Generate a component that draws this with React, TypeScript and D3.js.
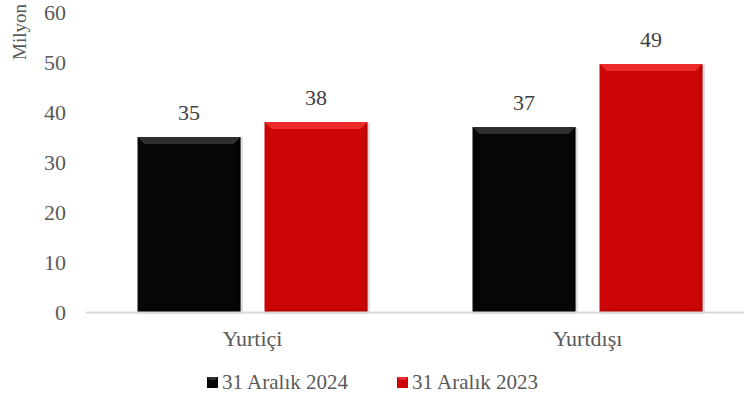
import { useRef, useEffect } from "react";
import * as d3 from "d3";

const categories = ["Yurtiçi", "Yurtdışı"];
const seriesNames = ["31 Aralık 2024", "31 Aralık 2023"];
const values2024 = [35, 37];
const values2023 = [38, 49.6];
const labels2024 = ["35", "37"];
const labels2023 = ["38", "49"];
const yTicks = [0, 10, 20, 30, 40, 50, 60];

const colors = ["#060606", "#cc0606"];
const lightColors = ["#2e2e2e", "#ec2a2a"];
const darkColors = ["#000000", "#9a0000"];

function drawChart(svgEl: SVGSVGElement) {
  const width = 745,
    height = 409;
  const bevel = 7;
  const fs = 22;
  const font = "'Liberation Serif', 'Times New Roman', serif";

  const svg = d3.select(svgEl);
  svg.selectAll("*").remove();
  svg.attr("viewBox", `0 0 ${width} ${height}`);

  const y = d3.scaleLinear().domain([0, 60]).range([312, 12]);
  const x0 = d3.scaleBand().domain(categories).range([85, 755]).padding(0);
  const x1 = d3
    .scaleBand()
    .domain(seriesNames)
    .range([x0.bandwidth() / 2 - 115, x0.bandwidth() / 2 + 115])
    .paddingInner(24 / 127)
    .paddingOuter(0);

  // y tick labels
  svg
    .append("g")
    .selectAll("text")
    .data(yTicks)
    .join("text")
    .attr("x", 66)
    .attr("y", (d) => y(d))
    .attr("dy", "0.35em")
    .attr("text-anchor", "end")
    .attr("font-family", font)
    .attr("font-size", fs)
    .attr("fill", "#595959")
    .text((d) => d);

  svg
    .append("text")
    .attr("transform", `translate(26,32) rotate(-90)`)
    .attr("text-anchor", "middle")
    .attr("font-family", font)
    .attr("font-size", 19)
    .attr("fill", "#595959")
    .text("Milyon");

  const rows = categories.map((c, i) => ({
    cat: c,
    items: [
      { s: 0, v: values2024[i], label: labels2024[i] },
      { s: 1, v: values2023[i], label: labels2023[i] },
    ],
  }));

  const groups = svg
    .append("g")
    .selectAll("g")
    .data(rows)
    .join("g")
    .attr("transform", (d) => `translate(${x0(d.cat)},0)`);

  const bars = groups
    .selectAll("g")
    .data((d) => d.items)
    .join("g");

  const bw = x1.bandwidth();
  const bx = (d: any) => x1(seriesNames[d.s]) as number;

  // soft shadow
  bars
    .append("rect")
    .attr("x", (d) => bx(d) + 1)
    .attr("y", (d) => y(d.v) + 1)
    .attr("width", bw + 1.5)
    .attr("height", (d) => y(0) - y(d.v) + 1)
    .attr("fill", "#c8c8c8")
    .attr("opacity", 0.6);

  bars
    .append("rect")
    .attr("x", bx)
    .attr("y", (d) => y(d.v))
    .attr("width", bw)
    .attr("height", (d) => y(0) - y(d.v))
    .attr("fill", (d) => colors[d.s]);

  // top bevel
  bars
    .append("path")
    .attr("d", (d) => {
      const l = bx(d), t = y(d.v), r = l + bw;
      return `M${l},${t}L${r},${t}L${r - bevel},${t + bevel}L${l + bevel},${t + bevel}Z`;
    })
    .attr("fill", (d) => lightColors[d.s]);

  // right bevel
  bars
    .append("path")
    .attr("d", (d) => {
      const r = bx(d) + bw, t = y(d.v), b = y(0);
      return `M${r},${t}L${r - 3},${t + 3}L${r - 3},${b - 3}L${r},${b}Z`;
    })
    .attr("fill", (d) => darkColors[d.s])
    .attr("opacity", 0.35);

  // bottom bevel
  bars
    .append("path")
    .attr("d", (d) => {
      const l = bx(d), r = l + bw, b = y(0);
      return `M${l},${b}L${l + 3},${b - 3}L${r - 3},${b - 3}L${r},${b}Z`;
    })
    .attr("fill", (d) => darkColors[d.s])
    .attr("opacity", 0.35);

  bars
    .append("text")
    .attr("x", (d) => bx(d) + bw / 2)
    .attr("y", (d) => y(d.v) - 17)
    .attr("text-anchor", "middle")
    .attr("font-family", font)
    .attr("font-size", fs)
    .attr("fill", "#404040")
    .text((d) => d.label);

  // x axis line
  svg
    .append("line")
    .attr("x1", 86)
    .attr("x2", 744)
    .attr("y1", y(0) + 0.5)
    .attr("y2", y(0) + 0.5)
    .attr("stroke", "#d9d9d9")
    .attr("stroke-width", 2);

  svg
    .append("g")
    .selectAll("text")
    .data(categories)
    .join("text")
    .attr("x", (d) => (x0(d) as number) + x0.bandwidth() / 2)
    .attr("y", 338)
    .attr("dy", "0.35em")
    .attr("text-anchor", "middle")
    .attr("font-family", font)
    .attr("font-size", fs)
    .attr("fill", "#595959")
    .text((d) => d);

  // legend
  const legendX = [207, 397];
  const legend = svg
    .append("g")
    .selectAll("g")
    .data(seriesNames)
    .join("g")
    .attr("transform", (d, i) => `translate(${legendX[i]},382)`);

  legend
    .append("rect")
    .attr("x", 0)
    .attr("y", -5)
    .attr("width", 11)
    .attr("height", 11)
    .attr("fill", (d, i) => colors[i]);
  legend
    .append("path")
    .attr("d", "M0,-5L11,-5L8,-2L3,-2Z")
    .attr("fill", (d, i) => lightColors[i]);

  legend
    .append("text")
    .attr("x", 15)
    .attr("y", 0)
    .attr("dy", "0.35em")
    .attr("font-family", font)
    .attr("font-size", 21)
    .attr("fill", "#595959")
    .text((d) => d);
}

export default function App() {
  const svg = useRef<SVGSVGElement>(null);
  useEffect(() => {
    if (svg.current) drawChart(svg.current);
  }, []);
  return (
    <svg
      ref={svg}
      width={745}
      height={409}
      style={{ position: "absolute", left: 0, top: 0 }}
    />
  );
}
